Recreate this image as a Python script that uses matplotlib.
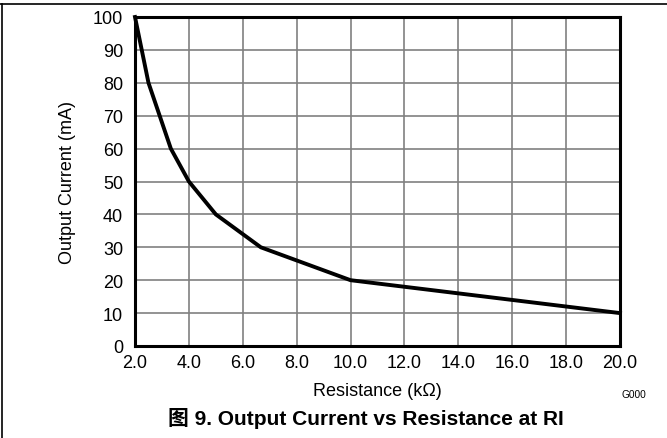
import matplotlib
matplotlib.use("Agg")
import matplotlib.pyplot as plt
from matplotlib.lines import Line2D

resistance = [2.0, 2.5, 3.33, 4.0, 5.0, 6.67, 10.0, 20.0]
current = [100, 80, 60, 50, 40, 30, 20, 10]
xticks = [2, 4, 6, 8, 10, 12, 14, 16, 18, 20]
xticklabels = ["2.0", "4.0", "6.0", "8.0", "10.0", "12.0", "14.0", "16.0", "18.0", "20.0"]
yticks = [0, 10, 20, 30, 40, 50, 60, 70, 80, 90, 100]

plt.rcParams['font.family'] = ['Liberation Sans', 'Noto Sans CJK SC', 'DejaVu Sans']

fig = plt.figure(figsize=(6.67, 4.39), dpi=100)
W, H = 667, 439
ax = fig.add_axes([135 / W, 1 - 347 / H, (620 - 135) / W, (347 - 18) / H])
ax.plot(resistance, current, color='black', lw=2.8, solid_joinstyle='miter', clip_on=False, zorder=3)
ax.set_xlim(2, 20)
ax.set_ylim(0, 100)
ax.set_xticks(xticks)
ax.set_xticklabels(xticklabels)
ax.set_yticks(yticks)
ax.grid(True, color='#808080', lw=1.2)
ax.set_axisbelow(True)
for s in ax.spines.values():
    s.set_linewidth(2.2)
    s.set_color('black')
ax.tick_params(length=0, labelsize=13)
ax.tick_params(axis='y', pad=8.5)
ax.tick_params(axis='x', pad=5.5)
ax.set_xlabel("Resistance (kΩ)", fontsize=13, labelpad=8)
ax.set_ylabel("Output Current (mA)", fontsize=13, labelpad=12)

fig.text(622 / W, 1 - 395 / H, "G000", fontsize=7.3, va='center', ha='left')
fig.text(366 / W, 1 - 419 / H, "图 9. Output Current vs Resistance at RI", fontsize=15,
         fontweight='bold', ha='center', va='center')

# outer frame lines
fig.add_artist(Line2D([0, 1], [1 - 5 / H, 1 - 5 / H], color='black', lw=1.2, transform=fig.transFigure))
fig.add_artist(Line2D([2 / W, 2 / W], [0, 1 - 5 / H], color='black', lw=1.2, transform=fig.transFigure))

fig.savefig("out.png", dpi=100)
